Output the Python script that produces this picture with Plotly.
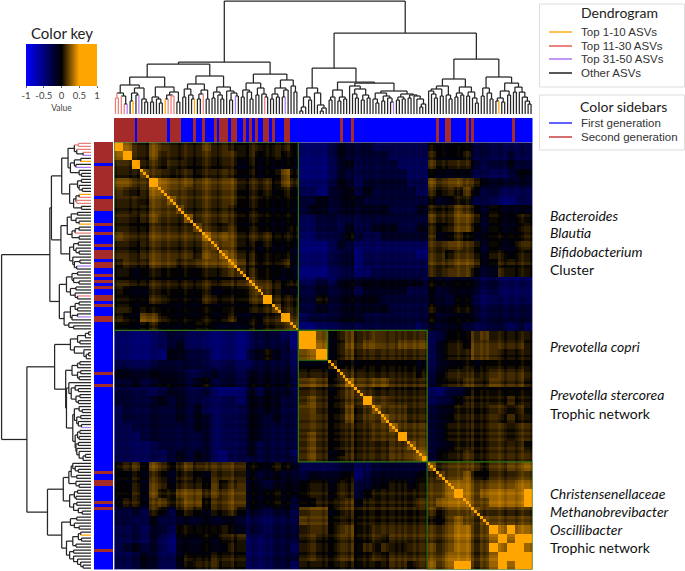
import re
import numpy as np
import plotly.graph_objects as go

W, H = 685, 571

# Correlation levels (coarse cells), digit -> value via LEVELS
LEVELS = [-0.46, -0.34, -0.22, -0.1, -0.02, 0.045, 0.09, 0.14, 0.22, 0.52]
CELL_SPANS = [3]*21 + [3, 3, 4] + [3]*10 + [2, 2] + [3]*12

B11 = ["986576555565545554554", "96575555555555544544", "9665665555554544444", "866566556655544585",
       "98777666665555475", "8776666665555454", "876666665554444", "86666655554444", "8666655554444",
       "866565554445", "87765555444", "8776545444", "876544443", "87544453", "8765544", "876545",
       "87644", "9655", "866", "97", "8"]
B12 = ["000232221111111", "000232222211111", "000233222221111", "000232222222111", "000232122222111",
       "110333232222211", "223333322222222", "233333333322233", "112322222222222", "112323223332233",
       "001223211222222", "000232111111111", "000222011111100", "000222011111111", "000222112222222",
       "112233333333332", "223333233333222", "224333333222222", "223333333322222", "122333322222222",
       "001222222222212"]
B13 = ["443332211111", "543342211211", "765553222322", "443332211233", "766655322222", "655464221111",
       "433442210011", "665765343333", "765776343344", "655775343345", "533433333334", "777766343356",
       "664555344344", "665666334444", "777775336555", "443333221111", "433333221111", "332332111111",
       "543443222222", "433333222222", "333322222121"]
B22 = ["997456556555555", "98457677667777", "9456555555555", "855555555544", "76655555545", "8767755555",
       "765555555", "96655555", "8666555", "866555", "86666", "9666", "877", "88", "9"]
B23 = ["123336744444", "134437755554", "134447754444", "244455655555", "245556666665", "244456565554",
       "112235544444", "122345544544", "233445555454", "233445554544", "234445555455", "234445555455",
       "233445555554", "244455555555", "244455555555"]
B33 = ["866667566778", "87786566677", "8887777788", "987888889", "87788889", "8766666", "877777",
       "98988", "9899", "998", "99", "9"]

# Per-leaf band strength (light/dark rows and columns seen in the picture), 2 = neutral
LEAF_BANDS = ("233332" "22122" "1" "343" "322322" "21232" "2122" "3432" "21233" "34211" "1023211" "232122" "123212"
              "3332333323" "0011" "2232" "4" "122" "323322" "332332" "323223" "2332"
              "232112233" "3433433" "11212" "33343233" "3234332")
BAND_STEP = 0.04

# Shared clustering: "(height left right)"; . other ASV, o top 1-10, r top 11-30, p top 31-50
TREE = """(113
 (52
  (50
   (37
    (29
     (21 (16 r r) (18 r (10 r p)))
     (26 (21 (13 . o) (19 . p)) (15 . (12 . .))))
    (27
     (17 (12 . .) (15 . (11 . .)))
     (22 (19 (15 o r) (18 r r)) (12 . .))))
   (38
    (30 (25 (17 . .) (19 . (15 . o))) (24 (20 (15 . .) r) (15 . .)))
    (27 (22 (16 . .) (19 . (15 . .))) (23 . (21 (14 . .) (18 p .))))))
  (40
   (31 (24 (17 . .) (22 . (15 . .))) (26 (19 . .) (20 . (17 r .))))
   (34 (26 (20 (15 . .) (17 . .)) (24 (17 . p) .)) (28 . (22 . .)))))
 (81
  (46
   (26 (17 (7 (3 . .) .) (14 . .)) (21 . (9 . (6 (3 . .) .))))
   (32
    (24 (17 (14 . .) .) (17 (13 . .) (15 . .)))
    (31
     (28 . (25 (20 . (16 . .)) (19 (14 . .) (16 . .))))
     (23
      (21 (15 . (11 . .)) (18 (13 . .) (16 . (12 . p))))
      (20 (17 (14 . .) (15 . .)) (19 (16 . .) (18 . (15 . (10 (7 . .) .)))))))))
  (55
   (35
    (28 (25 (23 . (20 . (16 . .))) (18 . .)) (19 . (15 . .)))
    (27 (21 (17 . .) (19 . .)) (22 (18 . .) (16 . (11 . .)))))
   (37
    (26 (18 . .) (21 . (15 . .)))
    (31 (23 (16 (13 . o) (12 . .)) (19 . .)) (27 (22 . .) (22 . (17 . (13 . (10 . .))))))))))"""

SECOND_GEN_LEAVES = [0, 1, 2, 3, 4, 5, 6, 8, 9, 10, 11, 12, 13, 14, 15, 16, 17, 19, 20, 21, 22, 27, 30, 34,
                     36, 37, 38, 40, 41, 44, 46, 48, 51, 52, 54, 58, 59, 77, 81, 110, 113, 114, 120, 122, 136]
LEAF_COUNT = 143
BLOCKS = [(0, 63), (63, 107), (107, 143), (63, 73)]

KEY_TICKS = [-1, -0.5, 0, 0.5, 1]
KEY_LABELS = ["-1", "-0.5", "0", "0.5", "1"]
DENDRO_LEGEND = [("Top 1-10 ASVs", "#ffa500"), ("Top 11-30 ASVs", "#e2504a"),
                 ("Top 31-50 ASVs", "#a46cf0"), ("Other ASVs", "#111111")]
SIDEBAR_LEGEND = [("First generation", "#1f1fff"), ("Second generation", "#c0322f")]
NOTES = [("Bacteroides", 216, True), ("Blautia", 233, True), ("Bifidobacterium", 251, True), ("Cluster", 269, False),
         ("Prevotella copri", 346, True), ("Prevotella stercorea", 394, True), ("Trophic network", 413, False),
         ("Christensenellaceae", 493, True), ("Methanobrevibacter", 511, True), ("Oscillibacter", 529, True),
         ("Trophic network", 547, False)]

# ---- build matrix
n = len(CELL_SPANS)
M = np.zeros((n, n))
n1, n2, n3 = len(B11), len(B22), len(B33)
def put(rows, r0, c0, tri):
    for i, s in enumerate(rows):
        for j, ch in enumerate(s):
            a, b = r0 + i, (c0 + i + j) if tri else (c0 + j)
            M[a, b] = M[b, a] = LEVELS[int(ch)]
put(B11, 0, 0, True); put(B12, 0, n1, False); put(B13, 0, n1 + n2, False)
put(B22, n1, n1, True); put(B23, n1, n1 + n2, False); put(B33, n1 + n2, n1 + n2, True)
Z = np.repeat(np.repeat(M, CELL_SPANS, axis=0), CELL_SPANS, axis=1)
bands = (np.array([int(c) for c in LEAF_BANDS]) - 2) * BAND_STEP
Z = Z + bands[:, None] + bands[None, :]
np.fill_diagonal(Z, 0.6)
leaf_centres = np.arange(LEAF_COUNT) + 0.5

# ---- parse tree
tokens = re.findall(r"\(|\)|\d+|[.orp]", TREE)
pos = 0
def parse():
    global pos
    t = tokens[pos]; pos += 1
    if t == "(":
        h = int(tokens[pos]); pos += 1
        l = parse(); r = parse()
        pos += 1
        return (h, l, r)
    return t
root = parse()

LINE_COL = {".": "#262626", "o": "#ffa500", "r": "#ea7f78", "p": "#ad7cf2"}
segs = {k: ([], []) for k in LINE_COL}
counter = [0]
def walk(node):
    if isinstance(node, str):
        p = counter[0] + 0.5; counter[0] += 1
        return p, 0, node
    h, l, r = node
    pl, hl, cl = walk(l); pr, hr, cr = walk(r)
    c = cl if cl == cr else "."
    for (p0, h0, c0) in ((pl, hl, cl), (pr, hr, cr)):
        segs[c0][0].extend([p0, p0, None]); segs[c0][1].extend([h0, h, None])
    segs[c][0].extend([pl, pr, None]); segs[c][1].extend([h, h, None])
    return (pl + pr) / 2, h, c
walk(root)

# ---- helpers
def dx(a, b): return [a / W, b / W]
def dy(top, bottom): return [1 - bottom / H, 1 - top / H]

CS = [[0, "#0000ff"], [0.25, "#00007f"], [0.5, "#000000"], [0.75, "#ffa500"], [1, "#ffa500"]]

fig = go.Figure()
fig.add_trace(go.Heatmap(
    z=Z, x=leaf_centres, y=leaf_centres, zmin=-1, zmax=1, colorscale=CS, xaxis="x", yaxis="y",
    hoverinfo="skip",
    colorbar=dict(orientation="h", x=61.5 / W, xanchor="center", y=1 - 44 / H, yanchor="top", xpad=0, ypad=0,
                  lenmode="pixels", len=71, thickness=42, outlinewidth=0,
                  tickvals=KEY_TICKS, ticktext=KEY_LABELS, ticks="outside", ticklen=2, tickwidth=1,
                  tickcolor="#666", tickfont=dict(size=9.5, color="#444", family="Lato"),
                  title=dict(text="Value", side="bottom", font=dict(size=8.5, color="#444", family="Lato")))))

gen = np.zeros(LEAF_COUNT)
gen[SECOND_GEN_LEAVES] = 1
SIDE_CS = [[0, "#0000ff"], [0.5, "#0000ff"], [0.5, "#a52a2a"], [1, "#a52a2a"]]
fig.add_trace(go.Heatmap(z=[gen], x=leaf_centres, y=[0], zmin=0, zmax=1, colorscale=SIDE_CS, showscale=False,
                         xaxis="x4", yaxis="y4", hoverinfo="skip"))
fig.add_trace(go.Heatmap(z=gen[:, None], y=leaf_centres, x=[0], zmin=0, zmax=1, colorscale=SIDE_CS, showscale=False,
                         xaxis="x5", yaxis="y5", hoverinfo="skip"))

for k in [".", "r", "p", "o"]:
    xs, hs = segs[k]
    fig.add_trace(go.Scatter(x=xs, y=hs, mode="lines", line=dict(color=LINE_COL[k], width=1.25),
                             xaxis="x2", yaxis="y2", showlegend=False, hoverinfo="skip"))
    fig.add_trace(go.Scatter(x=hs, y=xs, mode="lines", line=dict(color=LINE_COL[k], width=1.25),
                             xaxis="x3", yaxis="y3", showlegend=False, hoverinfo="skip"))

hidden = dict(visible=False, showgrid=False, zeroline=False)
heat_x, heat_y = dx(114, 532.5), dy(142, 569.5)
fig.update_layout(
    width=W, height=H, margin=dict(l=0, r=0, t=0, b=0), paper_bgcolor="white", plot_bgcolor="white",
    showlegend=False,
    xaxis=dict(domain=heat_x, range=[0, LEAF_COUNT], **hidden),
    yaxis=dict(domain=heat_y, range=[LEAF_COUNT, 0], **hidden),
    xaxis2=dict(domain=heat_x, range=[0, LEAF_COUNT], anchor="y2", **hidden),
    yaxis2=dict(domain=dy(0, 114), range=[0, 114], anchor="x2", **hidden),
    xaxis3=dict(domain=dx(0, 91), range=[115, 0], anchor="y3", **hidden),
    yaxis3=dict(domain=heat_y, range=[LEAF_COUNT, 0], anchor="x3", **hidden),
    xaxis4=dict(domain=heat_x, range=[0, LEAF_COUNT], anchor="y4", **hidden),
    yaxis4=dict(domain=dy(118, 142), anchor="x4", **hidden),
    xaxis5=dict(domain=dx(94, 113), anchor="y5", **hidden),
    yaxis5=dict(domain=heat_y, range=[LEAF_COUNT, 0], anchor="x5", **hidden),
)

fig.add_shape(type="rect", x0=0, x1=LEAF_COUNT, y0=0, y1=LEAF_COUNT, xref="x", yref="y",
              line=dict(color="#b9b9d6", width=1))
for a, b in BLOCKS:
    fig.add_shape(type="rect", x0=a, x1=b, y0=a, y1=b, xref="x", yref="y", line=dict(color="#2f7512", width=1.2))

def txt(t, x, y, size, family="Lato", color="#222", anchor="left", italic=False):
    fig.add_annotation(text=t, x=x / W, y=1 - y / H, xref="paper", yref="paper", showarrow=False,
                       xanchor=anchor, yanchor="middle", font=dict(size=size, family=family, color=color,
                       style="italic" if italic else "normal"))
def box(x0, y0, x1, y1):
    fig.add_shape(type="rect", x0=x0 / W, x1=x1 / W, y0=1 - y0 / H, y1=1 - y1 / H, xref="paper", yref="paper",
                  line=dict(color="#dddddd", width=1), fillcolor="white")
def key(y, color):
    fig.add_shape(type="line", x0=549 / W, x1=572 / W, y0=1 - y / H, y1=1 - y / H, xref="paper", yref="paper",
                  line=dict(color=color, width=1.4))

txt("Color key", 62, 33, 15, anchor="center")
box(539.5, 4, 684.5, 87)
box(539.5, 95, 684.5, 150)
txt("Dendrogram", 619, 13, 14, anchor="center")
for (label, c), y in zip(DENDRO_LEGEND, [32, 46, 59, 73]):
    key(y, c); txt(label, 579, y, 11.5, family="Liberation Sans", color="#333")
txt("Color sidebars", 623, 106, 14, anchor="center")
for (label, c), y in zip(SIDEBAR_LEGEND, [123, 137]):
    key(y, c); txt(label, 579, y, 11.5, family="Liberation Sans", color="#333")
for t, y, it in NOTES:
    txt(t, 548, y, 14, italic=it, color="#111")

fig.write_html("out.html", config={"displayModeBar": False},
               post_script="document.body.style.margin='0';document.body.style.overflow='hidden';")
